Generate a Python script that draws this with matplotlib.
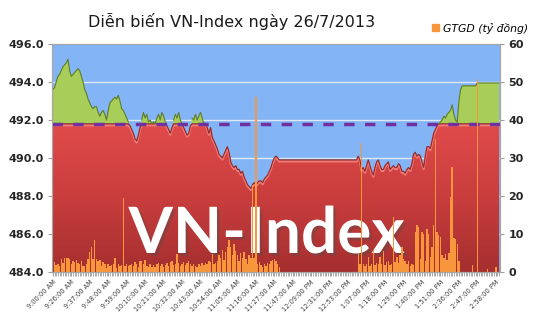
import numpy as np
import matplotlib.pyplot as plt
from matplotlib import patheffects as pe
from matplotlib.colors import LinearSegmentedColormap
from matplotlib.patches import Patch

# moc thoi gian hien thi tren truc x (moi 11 diem mot nhan)
nhan_gio = ['9:00:00 AM', '9:26:00 AM', '9:37:00 AM', '9:48:00 AM', '9:59:00 AM',
            '10:10:00 AM', '10:21:00 AM', '10:32:00 AM', '10:43:00 AM', '10:54:00 AM',
            '11:05:00 AM', '11:16:00 AM', '11:27:00 AM', '11:47:00 AM', '12:09:00 PM',
            '12:31:00 PM', '12:53:00 PM', '1:07:00 PM', '1:18:00 PM', '1:29:00 PM',
            '1:40:00 PM', '1:51:00 PM', '2:36:00 PM', '2:47:00 PM', '2:58:00 PM']

tham_chieu = 491.8

vnindex = [
    493.6, 493.7, 494.0, 494.3, 494.4, 494.6, 494.8, 494.9, 495.0, 495.2,
    494.6, 494.3, 494.4, 494.5, 494.6, 494.7, 494.6, 494.3, 494.0, 493.6,
    493.4, 493.1, 492.9, 492.7, 492.6, 492.7, 492.7, 492.4, 492.2, 492.4,
    492.5, 492.3, 492.0, 492.5, 492.9, 493.0, 493.1, 493.2, 493.1, 493.3,
    493.0, 492.6, 492.5, 492.3, 492.1, 491.9,
    491.7, 491.5, 491.3, 491.0, 490.9, 491.2, 491.6, 492.0, 492.4, 492.1,
    492.3, 491.9, 492.0, 491.8, 491.9, 491.8, 492.1, 492.3, 492.0, 492.4,
    492.2, 491.9, 491.7, 491.5, 491.3, 491.6, 492.0, 492.3, 492.1, 492.4,
    492.0, 491.8, 491.6, 491.4, 491.2, 491.3, 491.7, 492.1, 492.0, 492.3,
    492.0, 492.2, 492.4, 492.1, 491.8, 491.8, 491.6, 491.3,
    491.6, 491.1, 490.9, 490.7, 490.5, 490.2, 490.1, 490.0, 490.2, 490.4,
    490.6, 490.3, 489.8, 489.6, 489.5, 489.6, 489.4, 489.4, 489.2, 489.3,
    489.0, 488.8, 488.6, 488.5, 488.4, 488.6, 488.7, 488.6, 488.7, 488.8,
    488.8, 488.7, 488.9, 489.0, 489.1, 489.3, 489.5, 489.8, 490.0,
    490.1, 490.0] + [489.9] * 47 + [
    490.1, 489.9, 489.4, 489.5, 489.3, 489.6, 489.9, 489.6, 489.3, 489.1,
    489.5, 489.8, 489.9, 489.6, 489.4, 489.4, 489.6, 489.7, 489.8, 489.4,
    489.5, 489.6, 489.5, 489.5, 489.7, 489.6, 489.3, 489.3, 489.2, 489.4,
    489.5, 489.4, 489.7, 490.2, 490.3, 490.1, 490.2, 490.1, 489.8, 489.5,
    490.1, 490.6, 490.6, 490.5, 490.9, 491.3, 491.5, 491.7, 491.8, 491.9,
    492.0, 492.2, 492.1, 492.3, 492.4, 492.5, 492.8, 492.3, 492.0, 491.9,
    493.0, 493.6] + [493.8] * 9 + [493.95] * 14

gtgd = [
    0.0, 2.6, 1.8, 2.0, 1.6, 3.4, 2.4, 3.7, 3.6, 3.7,
    3.5, 2.2, 3.0, 2.6, 3.1, 2.4, 2.2, 3.0, 1.5, 1.6,
    2.2, 3.5, 5.3, 6.6, 3.5, 8.3, 3.5, 3.0, 3.2, 1.5,
    2.6, 2.2, 1.0, 2.2, 1.5, 1.8, 2.2, 3.8, 1.0, 2.0,
    1.5, 1.8, 19.4, 1.6, 2.0, 1.5,
    1.8, 2.2, 1.5, 2.6, 2.0, 1.4, 2.8, 3.0, 2.2, 3.2,
    1.7, 1.4, 2.0, 1.3, 1.8, 1.2, 2.0, 2.5, 1.6, 2.1,
    1.4, 1.8, 2.4, 1.6, 2.6, 3.0, 1.8, 2.2, 4.8, 2.4,
    1.6, 2.0, 2.6, 1.8, 2.5, 3.0, 2.0, 1.5, 2.2, 1.7,
    1.4, 2.0, 1.6, 2.3, 1.8, 2.5, 2.0, 2.8,
    2.6, 4.7, 2.0, 2.4, 3.0, 4.5, 3.6, 5.8, 3.2, 5.3,
    6.6, 8.4, 6.6, 4.5, 7.5, 5.5, 4.5, 3.0, 4.9, 3.8,
    5.3, 3.4, 2.2, 4.5, 3.6, 23.0, 3.8, 46.0, 2.2, 2.6,
    1.8, 1.4, 2.0, 1.5, 2.4, 2.0, 3.0, 3.2, 3.5, 2.8,
    2.0, 1.2] + [0.0] * 46 + [
    5.0, 2.0, 34.0, 2.0, 1.5, 2.2, 4.0, 1.6, 2.0, 5.8,
    1.8, 2.4, 2.0, 4.0, 2.2, 5.6, 1.8, 2.6, 2.9, 1.8,
    2.0, 14.5, 2.6, 4.0, 2.4, 4.5, 6.7, 3.5, 2.9, 2.0,
    2.9, 1.6, 2.2, 1.8, 10.6, 12.4, 11.8, 3.5, 10.6, 10.0,
    2.9, 11.4, 10.0, 4.0, 6.6, 12.4, 35.0, 10.6, 9.8, 9.3,
    4.5, 3.8, 4.8, 3.2, 5.0, 19.7, 27.6, 9.0, 8.6, 7.5,
    3.0, 0.0, 0.0, 0.0, 0.0, 0.0, 0.0, 0.0, 1.8, 0.0,
    0.0, 50.7, 0.0, 0.0, 0.0, 0.0, 0.0, 0.8, 0.0, 0.0,
    0.0, 0.0, 1.2, 0.0, 0.0]

v = np.array(vnindex)
g = np.array(gtgd)
x = np.arange(len(v))
n = len(v)

fig = plt.figure(figsize=(5.35, 3.35), dpi=100)
ax = fig.add_axes([52 / 535, 1 - 272 / 335, 448 / 535, 228 / 335])
ax.set_facecolor('#82b4f6')

# luoi ngang
for yy in [486, 488, 490, 492, 494]:
    ax.axhline(yy, color='#dde8f5', lw=1, zorder=0.5)

# vung do (duoi tham chieu) voi do doc mau
duoi = np.minimum(v, tham_chieu)
vung_do = ax.fill_between(x, 484, duoi, color='none', lw=0, zorder=1)
grad = np.linspace(0, 1, 256).reshape(-1, 1)
cmap_do = LinearSegmentedColormap.from_list('do', ['#a52f2f', '#c93d3d', '#e04b4a'])
im = ax.imshow(grad, extent=[-0.5, n - 0.5, 484, tham_chieu], origin='lower',
               aspect='auto', cmap=cmap_do, zorder=1)
im.set_clip_path(vung_do.get_paths()[0], ax.transData)
ax.plot(x, duoi - 0.08, color='#f07a78', lw=1.6, zorder=1.2)
ax.plot(x, duoi, color='#8a2a2a', lw=0.8, zorder=1.3)

# vung xanh (tren tham chieu)
ax.fill_between(x, tham_chieu, v, where=v >= tham_chieu, interpolate=True,
                color='#a8cd58', lw=0, zorder=1)
tren = np.where(v >= tham_chieu, v, np.nan)
ax.plot(x, tren, color='#5f7d24', lw=0.8, zorder=1.3)

ax.axhline(tham_chieu, color='#7030a0', lw=2.5, dashes=(3.0, 3.0), zorder=3)

ax.text(266.5 / 535, 1 - 253 / 335, 'VN-Index', transform=fig.transFigure,
        ha='center', va='baseline', fontsize=46, fontweight='bold',
        family='Lato', color='white', zorder=4,
        path_effects=[pe.SimplePatchShadow(offset=(2, -2), alpha=0.35), pe.Normal()])

ax.set_xlim(-0.5, n - 0.5)
ax.set_ylim(484, 496)
ax.set_yticks(np.arange(484, 497, 2))
ax.set_yticklabels([f'{t:.1f}' for t in np.arange(484, 497, 2)])

ax2 = ax.twinx()
ax2.bar(x, g, width=0.85, color='#f7963c', lw=0, zorder=2)
ax2.set_ylim(0, 60)
ax2.set_yticks(range(0, 61, 10))

ax.set_xticks(x[::11])
ax.set_xticklabels(nhan_gio, rotation=45, ha='right', rotation_mode='anchor',
                   fontsize=4.8, color='#404040')
ax.set_xticks(x, minor=True)
ax.tick_params(axis='x', which='both', length=3, color='#a0a0a0', pad=2)
for a in (ax, ax2):
    a.tick_params(axis='y', length=3, color='#a0a0a0', labelsize=8, pad=3)
    for s in a.spines.values():
        s.set_color('#a6a6a6')
for lab in ax.get_yticklabels() + ax2.get_yticklabels():
    lab.set_fontweight('bold')
    lab.set_color('#262626')

fig.text(231.5 / 535, 1 - 27 / 335, 'Diễn biến VN-Index ngày 26/7/2013',
         ha='center', va='baseline', fontsize=11.5, color='#1a1a1a')

fig.legend(handles=[Patch(color='#f7963c')], labels=['GTGD (tỷ đồng)'],
           loc='center right', bbox_to_anchor=(538 / 535, 1 - 28 / 335),
           frameon=False, handlelength=0.6, handleheight=0.6, handletextpad=0.4,
           prop={'style': 'italic', 'size': 7.8})

fig.savefig('out.png', dpi=100)
